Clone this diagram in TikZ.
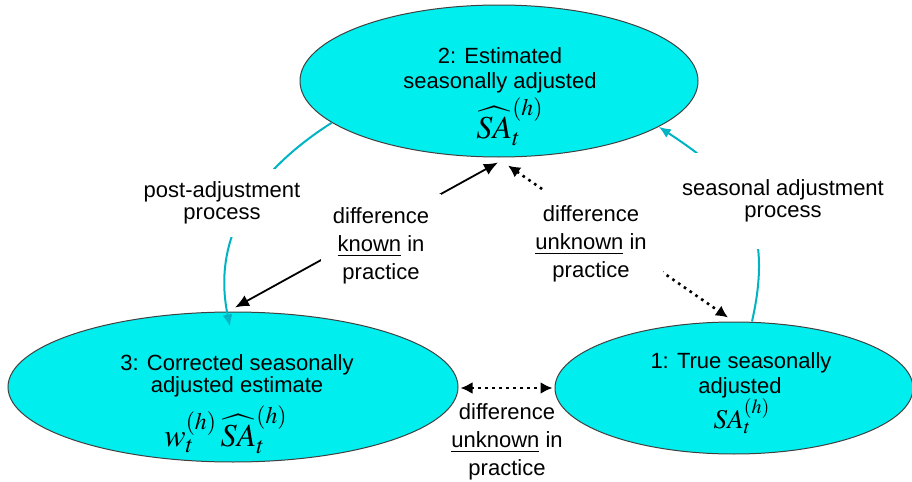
\documentclass[tikz,border=0pt]{standalone}
\usepackage{mathptmx}
\usepackage{fontspec}
\setmainfont{Liberation Sans}
\usetikzlibrary{shapes.geometric,arrows.meta}
\definecolor{ellfill}{RGB}{0,238,238}
\definecolor{procline}{RGB}{0,180,195}
\begin{document}
\begin{tikzpicture}[x=0.5pt,y=-0.5pt,
  ell/.style={ellipse, draw=black!75, line width=0.5pt, fill=ellfill, inner sep=0pt},
  txt/.style={anchor=base, inner sep=0pt, font=\fontsize{11}{13}\selectfont},
  mth/.style={anchor=base, inner sep=0pt, font=\fontsize{16}{18}\selectfont},
  mths/.style={anchor=base, inner sep=0pt, font=\fontsize{13.5}{15}\selectfont},
  lbl/.style={align=center, fill=white, font=\fontsize{11}{11.25}\selectfont},
  dlbl/.style={align=center, font=\fontsize{11}{14}\selectfont},
  proc/.style={draw=procline, line width=1pt, -{Latex[length=6pt,width=5pt]}},
  known/.style={draw=black, line width=0.9pt, {Latex[length=7pt,width=6pt]}-{Latex[length=7pt,width=6pt]}},
  unk/.style={draw=black, line width=1.3pt, dash pattern=on 1.3pt off 2.2pt, {Latex[length=6pt,width=6pt]}-{Latex[length=6pt,width=6pt]}}
]
\useasboundingbox[fill=white] (0,0) rectangle (912,482);

% ellipses
\node[ell, minimum width=199pt, minimum height=76pt] (e2) at (499,81) {};
\node[ell, minimum width=225pt, minimum height=75pt] (e3) at (233,387) {};
\node[ell, minimum width=179pt, minimum height=66pt] (e1) at (734,388) {};

% ellipse texts
\node[txt] (e2a) at (500,63) {2: Estimated};
\node[txt] (e2b) at (500,88) {seasonally adjusted};
\node[mth] (e2m) at (510,138) {$\widehat{SA}_t^{(h)}$};

\node[txt] (e3a) at (237,370) {3: Corrected seasonally};
\node[txt] (e3b) at (237,392) {adjusted estimate};
\node[mth] (e3m) at (226,446) {$w_t^{(h)}\,\widehat{SA}_t^{(h)}$};

\node[txt] (e1a) at (741,368) {1: True seasonally};
\node[txt] (e1b) at (740,393) {adjusted};
\node[mths] (e1m) at (742,428) {$SA_t^{(h)}$};

% connectors
\draw[proc] (e2.194) .. controls (250,175) and (212,240) .. ([shift={(-3,15)}]e3.north);
\draw[proc] ([shift={(18,0)}]e1.north) .. controls (775,220) and (740,180) .. (e2.-16);
\draw[known] ([shift={(2,-4)}]e3.north) -- ([shift={(-1,5)}]e2.south);
\draw[unk] ([shift={(9,8)}]e2.south) -- ([shift={(-6,-4)}]e1.north);
\draw[unk] ([shift={(2,1)}]e3.east) -- ([shift={(-2,0)}]e1.west);

% labels
\node[lbl, inner xsep=4pt, inner ysep=6pt] (pa) at (222,203) {post-adjustment\\process};
\node[lbl, inner xsep=4pt, inner ysep=13pt] (sa) at (783,201) {seasonal adjustment\\process};
\node[dlbl, fill=white, inner xsep=6pt, inner ysep=7pt] (dk) at (381,246) {difference\\\underline{known} in\\practice};
\node[dlbl, fill=white, inner sep=8pt] (du1) at (591,244) {difference\\\underline{unknown} in\\practice};
\node[dlbl] (du2) at (507,442) {difference\\\underline{unknown} in\\practice};
\end{tikzpicture}
\end{document}
